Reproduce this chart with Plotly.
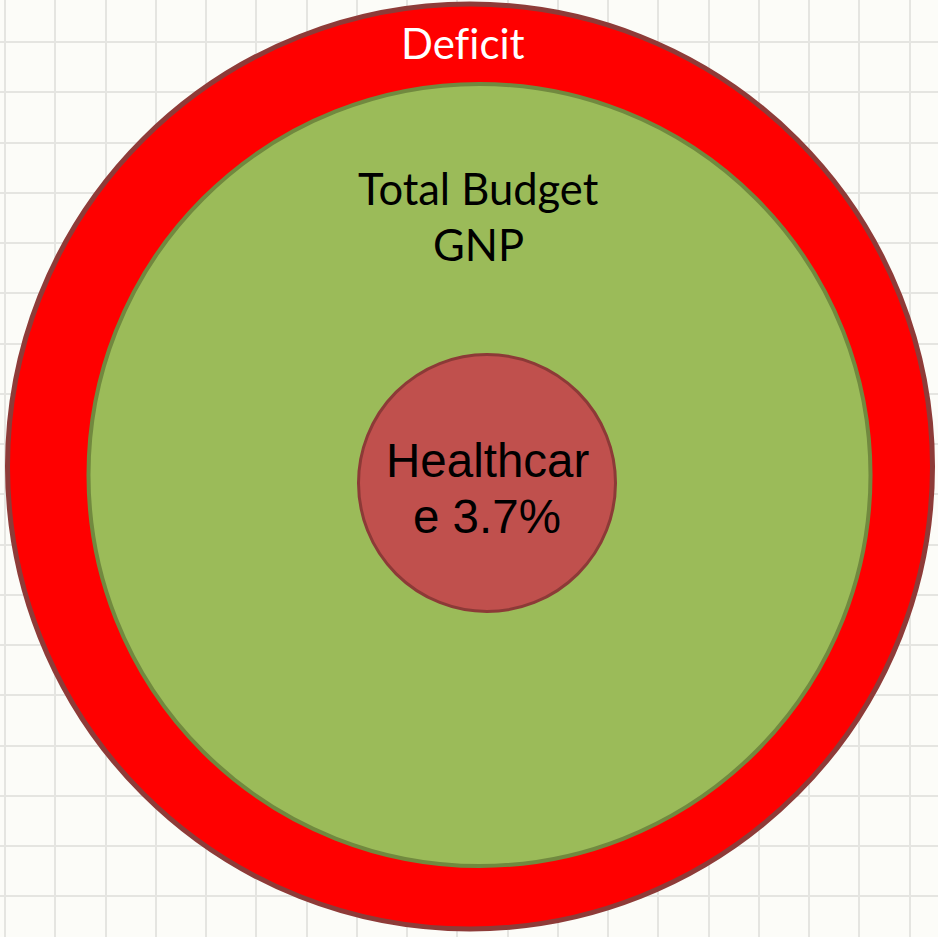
import plotly.graph_objects as go

# Nested budget circles: deficit ring, total budget, healthcare share
labels = ["Deficit", "Total Budget", "Healthcare"]
# "\u200c" keeps the f and i of "Deficit" from fusing into a ligature
label_lines = [["Def\u200cicit"], ["Total Budget", "GNP"], ["Healthcar", "e 3.7%"]]
healthcare_share = 3.7  # percent of GNP

W, H = 938, 937

# circle geometry: (cx, cy, r) in pixel-like data units
circle_geom = [(470, 466.5, 462.5), (479.5, 475, 391.0), (487, 483, 128.5)]
fills = ["#ff0000", "#9bbb59", "#c0504d"]
edges = ["#8e3b38", "#71893f", "#8c3a37"]
edge_w = [5, 4, 3]

fig = go.Figure()
fig.add_trace(go.Scatter(x=[0, W], y=[0, H], mode="markers",
                         marker=dict(opacity=0), hoverinfo="skip", showlegend=False))

shapes = []
for (cx, cy, r), fc, ec, lw in zip(circle_geom, fills, edges, edge_w):
    shapes.append(dict(type="circle", xref="x", yref="y",
                       x0=cx - r, x1=cx + r, y0=cy - r, y1=cy + r,
                       fillcolor=fc, line=dict(color=ec, width=lw), layer="above"))

annotations = []
# Deficit label
annotations.append(dict(x=463, y=43, text=label_lines[0][0], showarrow=False,
                        font=dict(family="Lato", size=42, color="white"),
                        xanchor="center", yanchor="middle"))
# Total budget labels
for ln, yy in zip(label_lines[1], [188, 244]):
    annotations.append(dict(x=478, y=yy, text=ln, showarrow=False,
                            font=dict(family="Lato", size=43.5, color="black"),
                            xanchor="center", yanchor="middle"))
# Healthcare labels
for ln, yy in zip(label_lines[2], [460, 516]):
    annotations.append(dict(x=487, y=yy, text=ln, showarrow=False,
                            font=dict(family="Liberation Sans", size=47.5, color="black"),
                            xanchor="center", yanchor="middle"))

fig.update_layout(
    width=W, height=H,
    margin=dict(l=0, r=0, t=0, b=0),
    paper_bgcolor="#fcfcf8", plot_bgcolor="#fcfcf8",
    shapes=shapes, annotations=annotations,
    xaxis=dict(range=[0, W], showgrid=True, gridcolor="#e5e5e1", gridwidth=2,
               tick0=5, dtick=50.25, showticklabels=False, zeroline=False,
               ticks="", fixedrange=True),
    yaxis=dict(range=[H, 0], showgrid=True, gridcolor="#e5e5e1", gridwidth=2,
               tick0=42, dtick=50.25, showticklabels=False, zeroline=False,
               ticks="", fixedrange=True),
    showlegend=False,
)

fig.write_html("out.html")
